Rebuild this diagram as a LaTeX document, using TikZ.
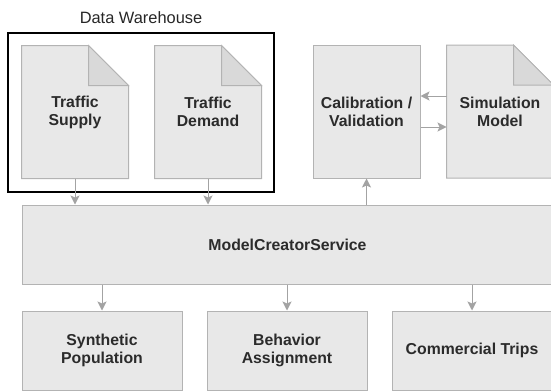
\documentclass[tikz,border=0pt]{standalone}
\usepackage{fontspec}
\setmainfont{Liberation Sans}
\usetikzlibrary{positioning, arrows.meta, backgrounds}

\definecolor{boxfill}{HTML}{E8E8E8}
\definecolor{boxline}{HTML}{B3B3B3}
\definecolor{foldfill}{HTML}{D9D9D9}
\definecolor{arrowgray}{HTML}{A3A3A3}
\definecolor{textgray}{HTML}{2B2B2B}

\tikzset{
  box/.style={rectangle, draw=boxline, fill=boxfill, line width=1pt, text=textgray, font=\fontsize{15.8}{18}\selectfont\bfseries, align=center, inner sep=0pt},
  docbox/.style={box, draw=none, fill=none, minimum width=106pt, minimum height=132pt},
  calbox/.style={box, minimum width=107pt, minimum height=133pt},
  outbox/.style={box, minimum width=160pt, minimum height=79pt},
  flow/.style={draw=arrowgray, line width=1pt, -{Stealth[length=9pt, width=9pt, inset=2pt]}},
  warehouse/.style={rectangle, draw=black, line width=1.3pt, minimum width=266pt, minimum height=159pt},
}

% document outline with folded corner, drawn behind the node text
\newcommand{\fold}{40pt}
\newcommand{\docoutline}[1]{%
  \begin{scope}[on background layer]
    \filldraw[draw=boxline, fill=boxfill, line width=1pt] (#1.south west) -- (#1.north west) -- ([xshift=-\fold]#1.north east) -- ([yshift=-\fold]#1.north east) -- (#1.south east) -- cycle;
    \filldraw[draw=boxline, fill=foldfill, line width=1pt] ([xshift=-\fold]#1.north east) -- ([xshift=-\fold, yshift=-\fold]#1.north east) -- ([yshift=-\fold]#1.north east) -- cycle;
  \end{scope}}

\begin{document}
\begin{tikzpicture}[x=1pt, y=-1pt]
  \clip (0,0) rectangle (551,391);

  % data warehouse
  \node[warehouse] (warehouse) at (141,112.5) {};
  \node[above=5pt of warehouse, font=\fontsize{16.4}{18}\selectfont, text=black!85] (dwlabel) {Data Warehouse};
  \node[docbox] (supply) at (75,112) {Traffic\\Supply};
  \docoutline{supply}
  \node[docbox] (demand) at (208,112) {Traffic\\Demand};
  \docoutline{demand}

  % calibration loop
  \node[calbox] (calib) at (366.5,111.5) {Calibration /\\Validation};
  \node[docbox] (simmodel) at (500,111.5) {Simulation\\Model};
  \docoutline{simmodel}

  % service
  \node[box, minimum width=531pt, minimum height=79pt] (mcs) at (287.5,244.5) {ModelCreatorService};

  % outputs
  \node[outbox] (synpop) at (102,350.5) {Synthetic\\Population};
  \node[outbox] (behavior) at (287,350.5) {Behavior\\Assignment};
  \node[outbox] (commercial) at (472,350.5) {Commercial Trips};

  \draw[flow] (supply) -- (supply |- mcs.north);
  \draw[flow] (demand) -- (demand |- mcs.north);
  \draw[flow] (calib.south |- mcs.north) -- (calib.south);
  \draw[flow] ([yshift=15.5pt]simmodel.west) -- ([yshift=15.5pt]calib.east);
  \draw[flow] ([yshift=-15.5pt]calib.east) -- ([yshift=-15.5pt]simmodel.west);
  \foreach \n in {synpop, behavior, commercial}
    \draw[flow] (\n.north |- mcs.south) -- (\n.north);
\end{tikzpicture}
\end{document}
